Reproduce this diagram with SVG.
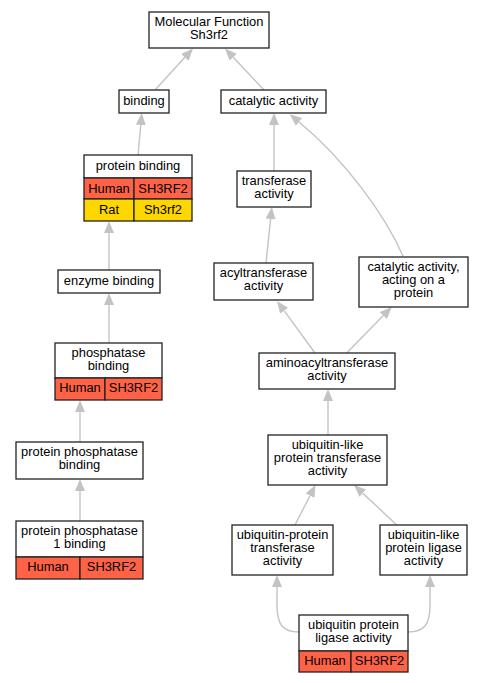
<svg xmlns="http://www.w3.org/2000/svg" width="483" height="683" viewBox="0 0 483 683">
<style>
text{font-family:"Liberation Sans",Arial,sans-serif;font-size:12.9px;fill:#000;text-anchor:middle}
.n{fill:#fff;stroke:#222;stroke-width:1.3}
.h{fill:#ff6347;stroke:#222;stroke-width:1.3}
.y{fill:#ffd700;stroke:#222;stroke-width:1.3}
.e{fill:none;stroke:#c3c3c3;stroke-width:1.4;marker-end:url(#a)}
</style>
<defs>
<marker id="a" viewBox="0 0 12 10" refX="0" refY="5" markerWidth="12" markerHeight="10" markerUnits="userSpaceOnUse" orient="auto">
<path d="M0,0 L12,5 L0,10 z" fill="#c3c3c3"/>
</marker>
</defs>
<rect width="483" height="683" fill="#fff"/>
<g id="edges">
<path class="e" d="M155,90 L184.9,57.3"/>
<path class="e" d="M264,90 L233.2,57.2"/>
<path class="e" d="M138.3,155 C138.5,145 140,135 140.8,125"/>
<path class="e" d="M274,171 L274,125"/>
<path class="e" d="M403,256 C385,215 345,160 299,122"/>
<path class="e" d="M266,263 L270.6,219"/>
<path class="e" d="M109,270 L109,233"/>
<path class="e" d="M315,353 L284.1,310.7"/>
<path class="e" d="M346.7,353 L383.3,315.6"/>
<path class="e" d="M109,343 L109,305"/>
<path class="e" d="M328,435 L328,401"/>
<path class="e" d="M80,442 L80,412"/>
<path class="e" d="M80,521 L80,491"/>
<path class="e" d="M295,525 L310,495.7"/>
<path class="e" d="M396.7,525 L362.8,493.2"/>
<path class="e" d="M299,632 C283,632 277,625 277,605 L277,587"/>
<path class="e" d="M408,632 C424,632 430,625 430,605 L430,587"/>
</g>
<g id="mf">
<rect class="n" x="149" y="12" width="120" height="36"/>
<text x="209" y="26">Molecular Function<tspan x="209" dy="13">Sh3rf2</tspan></text>
</g>
<g id="binding">
<rect class="n" x="119" y="90" width="50" height="23"/>
<text x="144" y="105">binding</text>
</g>
<g id="catalytic">
<rect class="n" x="221" y="90" width="105" height="23"/>
<text x="273.5" y="105">catalytic activity</text>
</g>
<g id="proteinbinding">
<rect class="n" x="84" y="155" width="108" height="23"/>
<rect class="h" x="84" y="178" width="50" height="21"/>
<rect class="h" x="134" y="178" width="58" height="21"/>
<rect class="y" x="84" y="199" width="50" height="22"/>
<rect class="y" x="134" y="199" width="58" height="22"/>
<text x="138" y="170">protein binding</text>
<text x="109" y="192.5">Human</text>
<text x="163" y="192.5">SH3RF2</text>
<text x="109" y="214">Rat</text>
<text x="163" y="214">Sh3rf2</text>
</g>
<g id="transferase">
<rect class="n" x="237" y="171" width="74" height="36"/>
<text x="274" y="185">transferase<tspan x="274" dy="13">activity</tspan></text>
</g>
<g id="enzymebinding">
<rect class="n" x="58" y="270" width="102" height="23"/>
<text x="109" y="285">enzyme binding</text>
</g>
<g id="acyl">
<rect class="n" x="214" y="263" width="99" height="37"/>
<text x="263.5" y="277">acyltransferase<tspan x="263.5" dy="13">activity</tspan></text>
</g>
<g id="caoap">
<rect class="n" x="359" y="257" width="109" height="50"/>
<text x="413.5" y="271">catalytic activity,<tspan x="413.5" dy="13">acting on a</tspan><tspan x="413.5" dy="13">protein</tspan></text>
</g>
<g id="phosphatase">
<rect class="n" x="55" y="343" width="107" height="35"/>
<rect class="h" x="55" y="378" width="50" height="22"/>
<rect class="h" x="105" y="378" width="57" height="22"/>
<text x="108.5" y="357">phosphatase<tspan x="108.5" dy="13">binding</tspan></text>
<text x="80" y="392">Human</text>
<text x="133.5" y="392">SH3RF2</text>
</g>
<g id="aminoacyl">
<rect class="n" x="259" y="353" width="136" height="36"/>
<text x="327" y="367">aminoacyltransferase<tspan x="327" dy="13">activity</tspan></text>
</g>
<g id="ppb">
<rect class="n" x="16" y="442" width="127" height="37"/>
<text x="79.5" y="456">protein phosphatase<tspan x="79.5" dy="13">binding</tspan></text>
</g>
<g id="ult">
<rect class="n" x="268" y="435" width="119" height="50"/>
<text x="327.5" y="449">ubiquitin-like<tspan x="327.5" dy="13">protein transferase</tspan><tspan x="327.5" dy="13">activity</tspan></text>
</g>
<g id="pp1">
<rect class="n" x="16" y="521" width="127" height="36"/>
<rect class="h" x="16" y="557" width="64" height="22"/>
<rect class="h" x="80" y="557" width="63" height="22"/>
<text x="79.5" y="535">protein phosphatase<tspan x="79.5" dy="13">1 binding</tspan></text>
<text x="48" y="571">Human</text>
<text x="111.5" y="571">SH3RF2</text>
</g>
<g id="upt">
<rect class="n" x="232" y="525" width="101" height="50"/>
<text x="282.5" y="539">ubiquitin-protein<tspan x="282.5" dy="13">transferase</tspan><tspan x="282.5" dy="13">activity</tspan></text>
</g>
<g id="ull">
<rect class="n" x="380" y="525" width="87" height="50"/>
<text x="423.5" y="539">ubiquitin-like<tspan x="423.5" dy="13">protein ligase</tspan><tspan x="423.5" dy="13">activity</tspan></text>
</g>
<g id="upla">
<rect class="n" x="299" y="615" width="109" height="36"/>
<rect class="h" x="299" y="651" width="52" height="21"/>
<rect class="h" x="351" y="651" width="57" height="21"/>
<text x="353.5" y="629">ubiquitin protein<tspan x="353.5" dy="13">ligase activity</tspan></text>
<text x="325" y="665">Human</text>
<text x="379.5" y="665">SH3RF2</text>
</g>
</svg>
